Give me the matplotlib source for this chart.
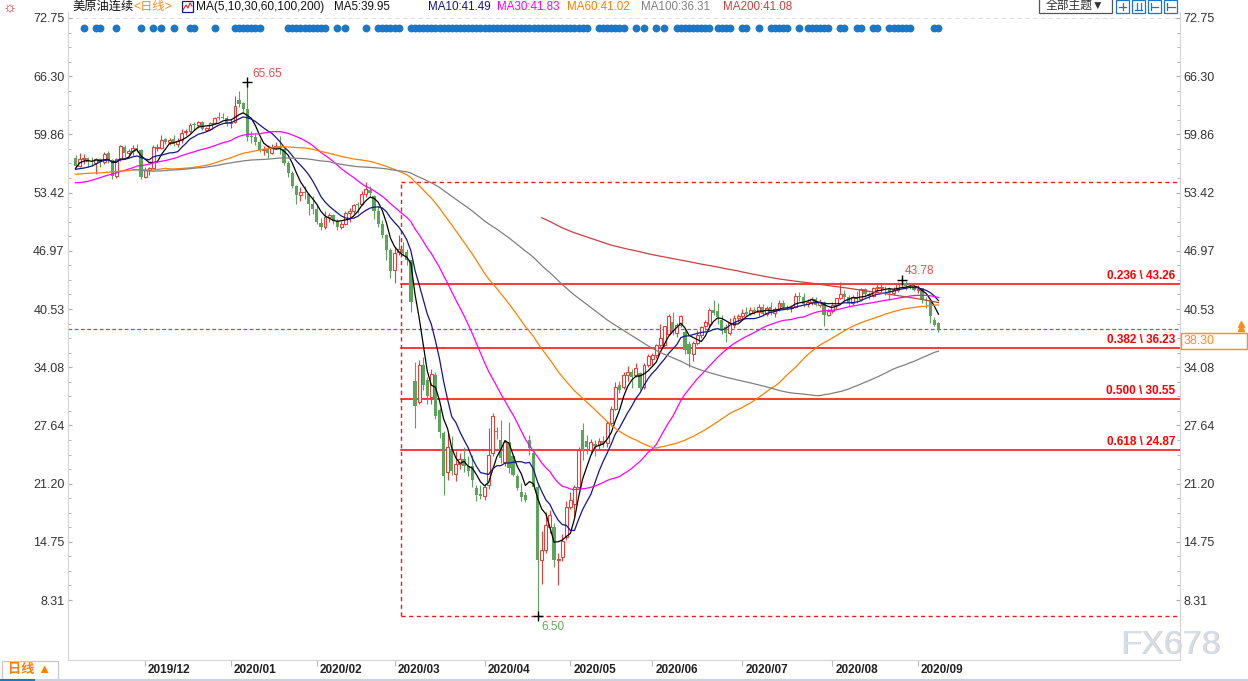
import numpy as np
import pandas as pd
import matplotlib
matplotlib.use("Agg")
import matplotlib.pyplot as plt
from matplotlib.patches import Rectangle
from matplotlib.lines import Line2D
from matplotlib.transforms import ScaledTranslation

plt.rcParams['font.family'] = ['Liberation Sans', 'Noto Sans CJK SC', 'DejaVu Sans']

# ---------------- data ----------------
# closes before the visible window, only used to warm up the long MAs
hist_jul_2019 = [57.83, 60.43, 60.20, 60.21, 59.58, 57.62, 56.78, 55.30, 55.63, 56.22,
                 56.77, 57.25, 55.88, 56.02, 56.20, 56.87, 58.58]
hist_aug_2019 = [53.95, 55.66, 54.69, 53.63, 51.09, 52.54, 54.50, 54.93, 57.10, 55.23, 54.47,
                 54.87, 56.21, 56.34, 55.68, 55.35, 54.17, 53.64, 54.93, 55.78, 56.71, 55.10]
hist_sep_2019 = [53.94, 56.26, 56.30, 56.52, 57.40, 57.85, 55.75, 55.09, 54.85, 62.90,
                 59.34, 58.11, 58.13, 58.09, 58.64, 57.29, 56.49, 56.41, 55.91, 54.07]
hist_oct_2019 = [53.62, 52.64, 52.45, 53.19, 52.75, 52.63, 52.59, 53.55, 54.70, 53.59, 53.81,
                 52.81, 53.36, 53.93, 53.31, 54.16, 55.97, 56.23, 56.66, 55.81, 55.54, 55.06, 54.18]
hist_nov_2019 = [56.20, 56.54, 57.23]

# visible candles (open, high, low, close)
nov_2019 = [(57.20, 57.60, 56.10, 56.35), (56.40, 57.80, 56.30, 57.15), (57.10, 57.70, 56.60, 57.24),
            (57.20, 57.40, 56.30, 56.86), (56.85, 57.40, 56.40, 56.80), (56.70, 57.30, 55.50, 57.12),
            (57.10, 57.30, 56.30, 56.77), (56.80, 57.90, 56.60, 57.72), (57.80, 58.00, 56.70, 57.05),
            (57.00, 57.10, 54.90, 55.21), (55.30, 57.20, 55.00, 57.11), (57.10, 58.70, 56.90, 58.58),
            (58.50, 58.70, 57.40, 57.77), (57.80, 58.30, 57.40, 58.01), (58.00, 58.70, 57.60, 58.41),
            (58.40, 58.80, 57.90, 58.11), (58.10, 58.20, 54.90, 55.17)]
dec_2019 = [(55.20, 56.20, 55.00, 55.96), (55.90, 56.30, 55.40, 56.10), (56.10, 58.70, 56.00, 58.43),
            (58.40, 58.80, 58.00, 58.45), (58.40, 59.80, 58.20, 59.20), (59.30, 59.50, 58.80, 59.02),
            (59.00, 59.50, 58.70, 59.24), (59.30, 59.80, 58.60, 58.76), (58.80, 59.50, 58.50, 59.18),
            (59.20, 60.50, 58.90, 60.07), (60.10, 60.50, 59.80, 60.21), (60.20, 61.10, 60.00, 60.94),
            (61.00, 61.20, 60.30, 60.93), (60.90, 61.40, 60.60, 61.22), (61.20, 61.40, 60.30, 60.44),
            (60.40, 60.70, 60.20, 60.52), (60.50, 61.20, 60.40, 61.11), (61.10, 61.80, 61.00, 61.68),
            (61.80, 62.30, 61.50, 61.72), (61.80, 62.20, 61.60, 61.68), (61.70, 61.90, 60.80, 61.06)]
jan_2020 = [(61.10, 61.60, 60.60, 61.18), (61.20, 64.10, 61.10, 63.05), (63.70, 64.70, 62.90, 63.27),
            (63.30, 63.50, 62.30, 62.70), (62.70, 65.65, 59.15, 59.61), (59.70, 60.20, 58.90, 59.56),
            (59.60, 59.90, 58.70, 59.04), (59.00, 59.30, 57.90, 58.08), (58.10, 58.60, 57.60, 58.23),
            (58.30, 58.70, 57.30, 57.81), (57.80, 58.80, 57.70, 58.52), (58.50, 59.00, 58.20, 58.54),
            (58.60, 59.70, 57.70, 58.38), (58.30, 58.40, 56.50, 56.74), (56.70, 56.90, 55.10, 55.59),
            (55.60, 55.80, 53.90, 54.19), (54.20, 54.30, 52.10, 53.14), (53.10, 54.00, 52.50, 53.48),
            (53.50, 54.20, 52.70, 53.33), (53.30, 53.40, 50.90, 52.14), (52.10, 53.00, 51.00, 51.56)]
feb_2020 = [(51.60, 52.10, 49.90, 50.11), (50.10, 50.60, 49.30, 49.61), (49.60, 51.40, 49.40, 50.75),
            (50.70, 51.20, 50.20, 50.95), (50.90, 51.00, 49.90, 50.32), (50.30, 50.50, 49.30, 49.57),
            (49.60, 50.30, 49.40, 49.94), (49.90, 51.40, 49.80, 51.17), (51.20, 51.70, 50.20, 51.42),
            (51.40, 52.20, 51.10, 52.05), (52.10, 52.40, 51.20, 52.05), (52.10, 53.60, 52.00, 53.29),
            (53.30, 54.62, 52.90, 53.78), (53.70, 54.10, 52.90, 53.38), (53.00, 53.20, 50.50, 51.43),
            (51.40, 51.90, 49.60, 49.90), (49.90, 50.40, 48.40, 48.73), (48.70, 48.80, 45.90, 47.09),
            (47.10, 47.30, 44.00, 44.76)]
mar_2020 = [(44.80, 47.40, 43.40, 46.75), (46.80, 48.70, 46.50, 47.18), (47.20, 47.90, 46.50, 46.78),
            (46.80, 47.20, 45.40, 45.90), (45.90, 46.00, 40.20, 41.28), (32.60, 34.70, 27.30, 29.80),
            (30.20, 34.90, 30.00, 34.36), (34.30, 35.20, 31.60, 32.10), (32.70, 33.00, 30.00, 30.90),
            (30.80, 33.90, 30.00, 33.30), (33.20, 33.50, 28.40, 28.70), (29.40, 29.60, 26.30, 26.95),
            (26.80, 27.00, 19.90, 22.00), (22.50, 26.80, 21.60, 25.30), (25.00, 26.50, 22.10, 22.60),
            (22.30, 24.80, 21.50, 23.40), (23.40, 24.60, 22.80, 23.90), (23.90, 25.20, 22.50, 23.10),
            (23.20, 24.20, 22.00, 22.60), (23.10, 24.40, 20.80, 21.60), (20.70, 21.00, 19.30, 19.90),
            (20.00, 21.00, 19.50, 19.85)]
apr_2020 = [(19.80, 21.20, 19.40, 20.85), (21.00, 27.40, 20.60, 24.40), (24.60, 29.00, 24.30, 28.70),
            (27.00, 27.50, 26.10, 26.90), (26.00, 28.20, 23.50, 24.00), (23.60, 26.00, 23.20, 25.80),
            (25.80, 28.00, 22.40, 22.90), (24.20, 24.40, 22.00, 22.20), (22.00, 22.30, 20.50, 20.70),
            (20.30, 21.30, 19.30, 19.75), (19.90, 20.30, 19.20, 19.40), (26.00, 26.60, 24.40, 25.10),
            (24.55, 25.00, 20.60, 20.85), (20.85, 21.30, 6.50, 12.70), (12.70, 15.90, 10.10, 13.90),
            (13.90, 18.10, 13.50, 16.60), (16.40, 18.30, 15.70, 17.70), (16.40, 16.80, 12.00, 12.70),
            (12.70, 13.50, 10.00, 12.90), (13.10, 15.60, 12.60, 14.80), (15.30, 19.30, 15.00, 18.60)]
may_2020 = [(18.60, 20.30, 18.40, 19.40), (18.90, 21.00, 17.50, 20.80), (20.85, 25.20, 20.60, 24.90),
            (27.10, 27.90, 23.80, 24.90), (25.90, 26.60, 24.50, 25.20), (24.90, 26.10, 24.60, 25.80),
            (25.60, 26.00, 24.30, 25.40), (25.50, 26.20, 24.90, 25.90), (25.90, 26.50, 25.20, 25.60),
            (25.70, 28.10, 25.30, 27.90), (27.90, 29.80, 27.60, 29.50), (29.50, 32.40, 29.30, 31.90),
            (32.10, 32.60, 31.20, 31.60), (31.90, 33.60, 31.70, 33.20), (33.20, 34.20, 32.60, 33.60),
            (33.60, 33.90, 31.80, 33.00), (33.20, 34.60, 33.00, 34.00), (33.40, 33.50, 31.60, 31.80),
            (31.90, 34.50, 31.70, 34.30), (34.30, 35.60, 34.10, 35.30)]
jun_2020 = [(35.00, 35.70, 34.30, 35.40), (35.40, 36.70, 35.10, 36.50), (36.50, 38.90, 36.20, 37.30),
            (36.50, 38.70, 36.30, 38.60), (37.80, 40.00, 37.60, 39.70), (39.10, 40.20, 37.70, 38.00),
            (37.90, 39.00, 37.40, 38.80), (38.80, 39.90, 38.50, 39.70), (38.00, 38.30, 35.60, 36.00),
            (36.60, 37.00, 34.10, 35.60), (35.60, 37.00, 34.80, 36.80), (36.80, 38.20, 36.50, 37.70),
            (37.70, 38.70, 37.30, 38.50), (38.60, 39.30, 38.20, 39.10), (38.90, 40.60, 38.70, 40.40),
            (40.40, 41.50, 39.90, 40.10), (40.30, 41.20, 38.90, 39.60), (39.30, 39.90, 37.80, 38.20),
            (38.50, 38.90, 36.90, 37.90), (37.90, 39.50, 37.70, 39.00), (38.80, 39.90, 38.40, 39.50),
            (39.50, 40.00, 39.10, 39.80)]
jul_2020 = [(39.80, 40.50, 39.40, 40.10), (40.20, 40.80, 39.90, 40.00), (40.10, 40.70, 39.90, 40.40),
            (40.40, 40.80, 40.00, 40.20), (40.20, 41.10, 39.80, 40.80), (40.80, 41.10, 39.70, 40.00),
            (40.00, 40.90, 39.80, 40.60), (40.70, 41.30, 39.90, 40.10), (40.10, 40.70, 39.60, 40.50),
            (40.50, 41.50, 40.30, 41.20), (41.20, 41.50, 40.60, 40.80), (40.80, 41.00, 40.40, 40.60),
            (40.60, 41.00, 40.20, 40.80), (40.80, 42.30, 40.60, 42.00), (42.00, 42.40, 41.40, 41.90),
            (41.90, 42.30, 40.80, 41.10), (41.10, 41.60, 40.70, 41.30), (41.30, 41.90, 41.00, 41.60),
            (41.60, 41.90, 40.90, 41.00), (41.00, 41.60, 40.70, 41.30), (41.30, 41.40, 38.70, 39.90),
            (39.90, 40.50, 39.70, 40.30)]
aug_2020 = [(40.30, 41.30, 40.10, 41.00), (41.00, 41.80, 40.50, 41.70), (41.70, 43.50, 41.60, 42.20),
            (42.20, 42.60, 41.50, 41.90), (41.90, 42.10, 40.90, 41.20), (41.20, 42.10, 41.00, 41.90),
            (41.90, 42.50, 41.20, 41.60), (41.60, 42.90, 41.40, 42.70), (42.70, 42.90, 41.90, 42.20),
            (42.20, 42.40, 41.60, 42.00), (42.00, 43.00, 41.90, 42.90), (42.90, 43.30, 42.50, 42.95),
            (42.90, 43.40, 42.40, 42.93), (42.90, 43.10, 42.10, 42.80), (42.80, 43.00, 41.50, 42.30),
            (42.30, 43.00, 42.10, 42.60), (42.60, 43.50, 42.40, 43.35), (43.35, 43.78, 42.80, 43.39),
            (43.40, 43.60, 42.60, 43.04), (43.00, 43.40, 42.70, 42.97), (43.00, 43.30, 42.50, 42.61)]
sep_2020 = [(42.60, 43.20, 42.30, 42.76), (42.80, 42.90, 41.20, 41.51), (41.50, 41.90, 40.60, 41.37),
            (41.40, 41.50, 39.00, 39.77), (39.30, 39.60, 38.60, 38.80), (39.00, 39.10, 38.00, 38.30)]

holidays = ["2019-11-28", "2019-12-25", "2020-01-01", "2020-01-20", "2020-02-17",
            "2020-04-10", "2020-05-25", "2020-07-03"]

ma_periods = [5, 10, 30, 60, 100, 200]
ma_colors = ["#000000", "#14148C", "#FF00FF", "#FF8000", "#808080", "#C84040"]
ma_header = ["MA5:39.95", "MA10:41.49", "MA30:41.83", "MA60:41.02", "MA100:36.31", "MA200:41.08"]

y_tick_values = [72.75, 66.30, 59.86, 53.42, 46.97, 40.53, 34.08, 27.64, 21.20, 14.75, 8.31]

fib_ratios = ["0.236", "0.382", "0.500", "0.618"]
fib_levels = [43.26, 36.23, 30.55, 24.87]
fib_high, fib_low = 54.62, 6.50
last_price = 38.30

high_label = (42, 65.65)
low_label = (113, 6.50)
recent_high_label = (202, 43.78)

# bars carrying an event dot in the top strip
event_bars = ([2, 5, 6, 10, 16, 19, 21, 24, 28, 29, 34] + list(range(39, 46)) + list(range(52, 62))
              + [64, 66, 71] + list(range(74, 80)) + list(range(82, 126)) + list(range(128, 135))
              + [137, 139, 142, 144] + list(range(147, 156)) + list(range(157, 161)) + [163, 164, 167]
              + list(range(170, 175)) + [177] + list(range(179, 185)) + [187, 188, 191, 192, 195, 196]
              + list(range(199, 205)) + [210, 211])

# ---------------- prepare ----------------
dates = pd.bdate_range("2019-11-06", "2020-09-08")
dates = dates[~dates.isin(pd.to_datetime(holidays))]
ohlc = np.array(nov_2019 + dec_2019 + jan_2020 + feb_2020 + mar_2020 + apr_2020
                + may_2020 + jun_2020 + jul_2020 + aug_2020 + sep_2020)
assert len(ohlc) == len(dates), (len(ohlc), len(dates))
o, h, l, c = ohlc.T
x = np.arange(len(ohlc))

history = hist_jul_2019 + hist_aug_2019 + hist_sep_2019 + hist_oct_2019 + hist_nov_2019
all_close = pd.Series(history + list(c))

month_pos, month_lab = [], []
for i in range(1, len(dates)):
    if dates[i].month != dates[i - 1].month:
        month_pos.append(i)
        month_lab.append(dates[i].strftime("%Y/%m"))

# ---------------- layout helpers (pixel geometry of the reference) ----------------
W, H = 1248, 681
X0_PX, PX_PER_BAR = 75.5, 4.09
Y_REF_PX, Y_REF, PX_PER_UNIT = 309, 40.53, 9.032


def px_to_idx(px):
    return (px - X0_PX) / PX_PER_BAR


def py_to_price(py):
    return Y_REF - (py - Y_REF_PX) / PX_PER_UNIT


def ftext(px, py, s, **kw):
    kw.setdefault("va", "center")
    kw.setdefault("ha", "left")
    return fig.text(px / W, 1 - py / H, s, **kw)


def frect(x0, y0, x1, y1, **kw):
    fig.patches.append(Rectangle((x0 / W, 1 - y1 / H), (x1 - x0) / W, (y1 - y0) / H,
                                 transform=fig.transFigure, **kw))


def fline(xs, ys, **kw):
    fig.lines.append(Line2D([v / W for v in xs], [1 - v / H for v in ys],
                            transform=fig.transFigure, **kw))


fig = plt.figure(figsize=(W / 100, H / 100), dpi=100, facecolor="white")
ax = fig.add_axes([68 / W, 1 - 660 / H, (1180 - 68) / W, (660 - 12) / H])
x_left, x_right = px_to_idx(68), px_to_idx(1180)
ax.set_xlim(x_left, x_right)
ax.set_ylim(py_to_price(660), py_to_price(12))

RED, GREEN = "#E2413B", "#5AA55A"

# candles
up = c >= o
ax.vlines(x[up], l[up], h[up], color=RED, lw=0.8, zorder=2)
ax.vlines(x[~up], l[~up], h[~up], color=GREEN, lw=0.8, zorder=2)
ax.bar(x[up], np.maximum(c[up] - o[up], 0.04), bottom=o[up], width=0.72,
       facecolor="white", edgecolor=RED, lw=0.8, zorder=3)
ax.bar(x[~up], o[~up] - c[~up], bottom=c[~up], width=0.8, color=GREEN, lw=0, zorder=3)

# moving averages
for p, col in zip(ma_periods, ma_colors):
    ma = all_close.rolling(p).mean().values[len(history):]
    ax.plot(x, ma, color=col, lw=0.9, zorder=4)

# fibonacci retracement
fx0 = px_to_idx(401)
for r, lev in zip(fib_ratios, fib_levels):
    ax.plot([fx0, x_right], [lev, lev], color="#FF0000", lw=1.1, zorder=1.5)
    ax.text(px_to_idx(1175), lev + 8 / PX_PER_UNIT, f"{r} \\ {lev:.2f}", color="#FF0000",
            fontsize=8.5, fontweight="bold", ha="right", va="center", zorder=6)
dash = (0, (3, 2.5))
ax.plot([fx0, fx0], [fib_low, fib_high], color="#E02020", lw=1, ls=dash, zorder=1.5)
ax.plot([fx0, x_right], [fib_high, fib_high], color="#E02020", lw=1, ls=dash, zorder=1.5)
ax.plot([fx0, x_right], [fib_low, fib_low], color="#E02020", lw=1, ls=dash, zorder=1.5)

# last price line and top dashed guide
ax.axhline(last_price, color="#2A7FD4", lw=0.9, ls=(0, (3, 2)), zorder=1.5)
ax.axhline(y_tick_values[0], color="#E2E2E2", lw=0.8, ls=(0, (4, 3)), zorder=1)

# extreme markers
for (bi, val), col, dx, dy in [(high_label, "#E0504A", 5, -8),
                               (low_label, "#5FAA5F", 4, 11),
                               (recent_high_label, "#E0504A", 3, -9)]:
    ax.plot(bi, val, marker="+", color="black", ms=7, mew=1, zorder=6)
    ax.text(bi + dx / PX_PER_BAR, val - dy / PX_PER_UNIT, f"{val:.2f}", color=col,
            fontsize=8.5, ha="left", va="center", zorder=6)

# event dots
ax.scatter(event_bars, [py_to_price(28)] * len(event_bars), s=32, color="#1C78C6",
           lw=0, zorder=5, clip_on=False)

# axes styling
ax.spines["top"].set_visible(False)
for side in ["left", "right", "bottom"]:
    ax.spines[side].set_color("#D4D4D4")
    ax.spines[side].set_linewidth(0.8)

ax.set_yticks(y_tick_values)
ax.set_yticklabels([f"{v:.2f}" for v in y_tick_values])
minor = []
for a, b in zip(y_tick_values[1:], y_tick_values[:-1]):
    minor += [a + (b - a) * k / 4 for k in (1, 2, 3)]
ax.set_yticks(minor, minor=True)
ax.tick_params(axis="y", which="both", left=True, right=True, labelleft=True, labelright=True,
               direction="in", color="#AAAAAA", labelsize=9, labelcolor="#333333", pad=2.5)
ax.tick_params(axis="y", which="major", length=3)
ax.tick_params(axis="y", which="minor", length=2)

ax.set_xticks(month_pos)
ax.set_xticklabels(month_lab, fontsize=8.5, fontweight="bold", color="#222222", ha="left")
ax.tick_params(axis="x", length=4, direction="out", color="#BBBBBB", pad=0)
for lab in ax.get_xticklabels():
    lab.set_transform(lab.get_transform() + ScaledTranslation(3 / 100, 2 / 100, fig.dpi_scale_trans))

# right-axis last price box
frect(1181, 333, 1247, 349, facecolor="white", edgecolor="#FF8C1A", lw=1)
ftext(1184, 341, f"{last_price:.2f}", color="#FF8C1A", fontsize=9)
fline([1241], [323.5], marker="^", ms=4, color="#FF8C1A", lw=0)
fline([1241], [327.5], marker="^", ms=4, color="#FF8C1A", lw=0)

# header
ftext(3, 8, "☼", color="#E02020", fontsize=11)
ftext(72, 7, "美原油连续", color="#111111", fontsize=8.8)
ftext(133, 7, "<日线>", color="#FF8C1A", fontsize=8.8)
frect(182, 1, 193, 12, facecolor="white", edgecolor="#1A1A8C", lw=0.9)
fline([183, 186, 188, 190, 192], [10, 5, 8, 3, 6], color="#E02020", lw=0.8)
ftext(196, 7, "MA(5,10,30,60,100,200)", color="#111111", fontsize=8.6)
for s, col, px in zip(ma_header, ["#111111", "#14148C", "#FF00FF", "#FF8000", "#808080", "#C84040"],
                      [334, 428, 497, 567, 641, 723]):
    ftext(px, 7, s, color=col, fontsize=8.4)

frect(1039, -2, 1112, 13, facecolor="white", edgecolor="#555555", lw=0.9)
ftext(1075, 6, "全部主题▼", color="#333333", fontsize=8.5, ha="center")
for bx in [1116, 1132, 1148, 1164]:
    frect(bx, 0, bx + 13, 13, facecolor="white", edgecolor="#1C78C6", lw=0.9)
fline([1119, 1126], [6.5, 6.5], color="#1C78C6", lw=0.9)
fline([1122.5, 1122.5], [3, 10], color="#1C78C6", lw=0.9)
fline([1135, 1142], [10, 10], color="#1C78C6", lw=0.9)
fline([1137, 1137], [3, 10], color="#1C78C6", lw=0.9)
fline([1141, 1141], [3, 10], color="#1C78C6", lw=0.9)
fline([1151, 1151], [3, 10], color="#1C78C6", lw=0.9)
fline([1152, 1158], [6.5, 6.5], color="#1C78C6", lw=0.9)
fline([1167, 1167], [3, 10], color="#1C78C6", lw=0.9)
fline([1168, 1175], [6.5, 6.5], color="#1C78C6", lw=0.9)

# bottom strip
frect(2, 661, 58, 680, facecolor="white", edgecolor="#C8C8C8", lw=0.9)
ftext(30, 670, "日线 ▲", color="#FF8000", fontsize=9.5, fontweight="bold", ha="center")
fline([0, 1248], [679.5, 679.5], color="#C9D2DE", lw=1.5)
fline([0, 34], [679.5, 679.5], color="#1C78C6", lw=1.5)

# watermark
ftext(1121, 646, "FX678", color="#D9CCBE", fontsize=24.5)
ftext(1120, 645, "FX678", color="#D3DEEA", fontsize=24.5)

fig.savefig("out.png", dpi=100, facecolor="white")
